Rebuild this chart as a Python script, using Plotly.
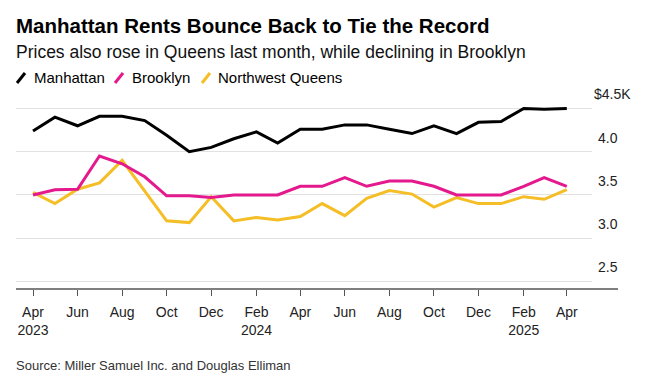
import plotly.graph_objects as go

months = ["2023-04-01", "2023-05-01", "2023-06-01", "2023-07-01", "2023-08-01", "2023-09-01",
          "2023-10-01", "2023-11-01", "2023-12-01", "2024-01-01", "2024-02-01", "2024-03-01",
          "2024-04-01", "2024-05-01", "2024-06-01", "2024-07-01", "2024-08-01", "2024-09-01",
          "2024-10-01", "2024-11-01", "2024-12-01", "2025-01-01", "2025-02-01", "2025-03-01",
          "2025-04-01"]
manhattan = [4.24, 4.40, 4.30, 4.41, 4.41, 4.36, 4.19, 4.00, 4.05, 4.15, 4.23, 4.10, 4.26,
             4.26, 4.31, 4.31, 4.26, 4.21, 4.30, 4.21, 4.34, 4.35, 4.50, 4.49, 4.50]
brooklyn = [3.50, 3.56, 3.566, 3.95, 3.86, 3.71, 3.49, 3.49, 3.47, 3.50, 3.50, 3.50, 3.60,
            3.60, 3.70, 3.60, 3.66, 3.66, 3.60, 3.50, 3.50, 3.50, 3.60, 3.70, 3.60]
queens = [3.53, 3.40, 3.566, 3.64, 3.90, 3.55, 3.20, 3.18, 3.48, 3.20, 3.24, 3.21, 3.25,
          3.40, 3.26, 3.46, 3.55, 3.51, 3.36, 3.47, 3.40, 3.40, 3.48, 3.45, 3.56]

series_names = ["Manhattan", "Brooklyn", "Northwest Queens"]
colors = {"Manhattan": "#000000", "Brooklyn": "#E3198D", "Northwest Queens": "#F5BE26"}

x_tickvals = ["2023-04-01", "2023-06-01", "2023-08-01", "2023-10-01", "2023-12-01",
              "2024-02-01", "2024-04-01", "2024-06-01", "2024-08-01", "2024-10-01",
              "2024-12-01", "2025-02-01", "2025-04-01"]
x_ticktext = ["Apr<br>2023", "Jun", "Aug", "Oct", "Dec", "Feb<br>2024", "Apr", "Jun", "Aug",
              "Oct", "Dec", "Feb<br>2025", "Apr"]
y_tickvals = [2.5, 3.0, 3.5, 4.0, 4.5]
y_ticktext = ["2.5", "3.0", "3.5", "4.0", "$4.5K"]

title = "Manhattan Rents Bounce Back to Tie the Record"
subtitle = "Prices also rose in Queens last month, while declining in Brooklyn"
source = "Source: Miller Samuel Inc. and Douglas Elliman"

FONT = "Liberation Sans, Arial, sans-serif"
W_PX, H_PX = 648, 384
L, R, T, B = 16, 56, 100, 95
PW, PH = W_PX - L - R, H_PX - T - B


def px(x):
    return (x - L) / PW


def py(y):
    return (T + PH - y) / PH


fig = go.Figure()
data = {"Manhattan": manhattan, "Brooklyn": brooklyn, "Northwest Queens": queens}
for name in ["Northwest Queens", "Brooklyn", "Manhattan"]:
    fig.add_trace(go.Scatter(x=months, y=data[name], mode="lines", name=name,
                             line=dict(color=colors[name], width=3),
                             showlegend=False, hoverinfo="x+y+name"))

annotations = [
    dict(text="<b>" + title + "</b>", x=px(14), y=py(26), xanchor="left", yanchor="middle",
         font=dict(family=FONT, size=20.5, color="#000000")),
    dict(text=subtitle, x=px(14), y=py(52), xanchor="left", yanchor="middle",
         font=dict(family=FONT, size=17.5, color="#111111")),
    dict(text=source, x=px(14), y=py(365), xanchor="left", yanchor="middle",
         font=dict(family=FONT, size=13, color="#333333")),
]

# legend (custom, slanted markers)
shapes = []
legend_pos = [(16, 34), (114, 132), (201, 218)]
for name, (mx, tx) in zip(series_names, legend_pos):
    shapes.append(dict(type="line", xref="paper", yref="paper",
                       x0=px(mx + 1), y0=py(83), x1=px(mx + 9), y1=py(73),
                       line=dict(color=colors[name], width=3)))
    annotations.append(dict(text=name, x=px(tx - 2), y=py(78), xanchor="left", yanchor="middle",
                            font=dict(family=FONT, size=15, color="#000000")))

# y tick labels above gridlines, right side
for v, t in zip(y_tickvals, y_ticktext):
    right = 632 if t.endswith("K") else 619
    annotations.append(dict(text=t, x=px(right + 1), xref="paper", y=v, yref="y",
                            xanchor="right", yanchor="bottom", yshift=4,
                            font=dict(family=FONT, size=14, color="#222222")))

for a in annotations:
    a.setdefault("xref", "paper")
    a.setdefault("yref", "paper")
    a["showarrow"] = False

# baseline extended beyond plot
shapes.append(dict(type="line", xref="paper", yref="paper", x0=0, x1=px(618), y0=0, y1=0,
                   line=dict(color="#555555", width=1.5)))

fig.update_layout(
    width=W_PX, height=H_PX,
    margin=dict(l=L, r=R, t=T, b=B, pad=0),
    paper_bgcolor="white", plot_bgcolor="white",
    showlegend=False,
    annotations=annotations,
    shapes=shapes,
    xaxis=dict(type="date", range=["2023-03-08 17:00", "2025-05-05 12:00"],
               tickmode="array", tickvals=x_tickvals, ticktext=x_ticktext,
               ticks="outside", ticklen=6, tickwidth=1.3, tickcolor="#555555",
               showgrid=False, showline=False, zeroline=False, ticklabelstandoff=4,
               tickfont=dict(family=FONT, size=14, color="#222222"), fixedrange=True),
    yaxis=dict(range=[2.412, 4.598], tickmode="array", tickvals=y_tickvals,
               showticklabels=False, showgrid=True, gridcolor="#e2e2e2", gridwidth=1,
               zeroline=False, showline=False, ticks="", fixedrange=True),
)

fig.write_html("out.html", config={"displayModeBar": False},
               post_script="document.body.style.margin='0';")
